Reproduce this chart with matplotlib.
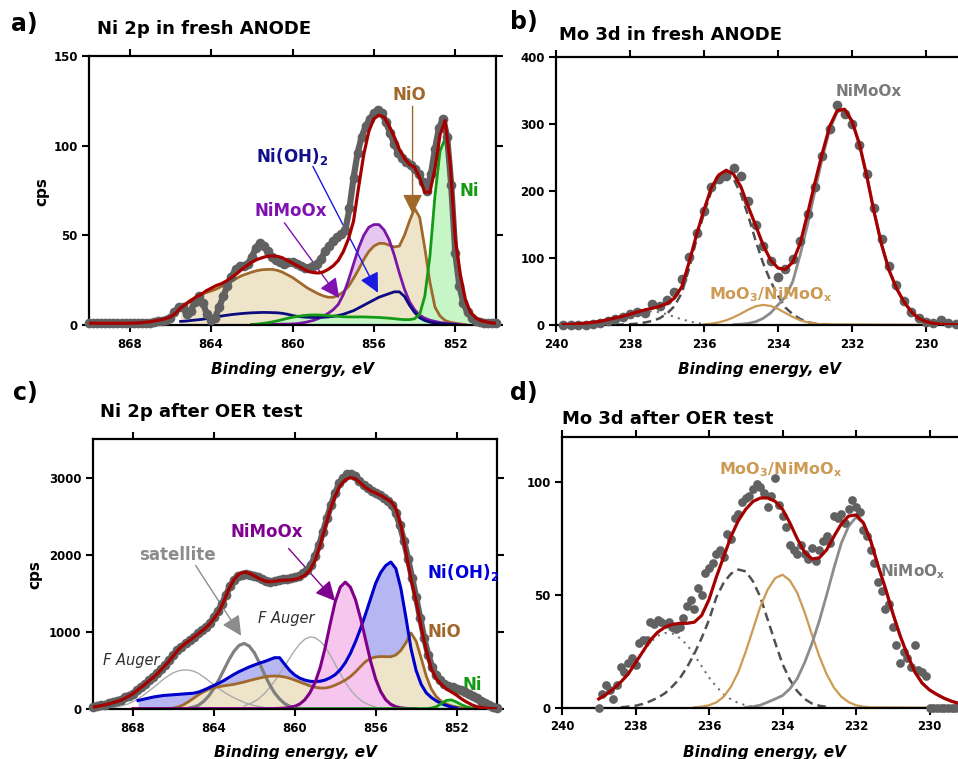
import numpy as np
import matplotlib.pyplot as plt

plt.rcParams['font.family'] = ['DejaVu Sans']
plt.rcParams['font.weight'] = 'bold'
plt.rcParams['mathtext.fontset'] = 'dejavusans'
plt.rcParams['mathtext.default'] = 'bf'


def grid(start, step, vals):
    # binding energy goes from high to low
    return start - step * np.arange(len(vals))


# ---------------- a) Ni 2p in fresh anode ----------------
a_data = [1, 1, 1, 1, 1, 1, 1, 1, 1, 1,
          1, 1, 1, 1, 1, 1, 1.5, 2, 2, 3,
          4, 7, 10, 10, 6, 8, 13, 16, 12, 6,
          3, 4, 10, 16, 22, 27, 31, 33, 33, 34,
          38, 43, 46, 44, 41, 38, 36, 35, 34, 35,
          35, 34, 33, 32, 32, 33, 34, 37, 41, 44,
          47, 49, 51, 53, 65, 82, 96, 105, 111, 115,
          118, 120, 118, 113, 107, 101, 96, 93, 91, 89,
          87, 84, 80, 75, 84, 98, 110, 115, 105, 78,
          40, 22, 12, 7, 4, 2.5, 1.5, 1, 1, 1, 1]
a_fit = [1, 1, 1, 1, 1, 1, 1, 1, 1, 1.1,
         1.2, 1.5, 1.8, 2.3, 2.8, 3.5, 4.5, 6.5, 9.5, 11.5,
         13.5, 15.5, 17, 19, 20.5, 22, 23, 24.5, 26.5, 28.5,
         31, 33, 35, 36.5, 37.5, 38.3, 38.5, 38.3, 37.5, 36,
         34.5, 33, 31.5, 30, 29.3, 29, 29.5, 31, 33, 36,
         41, 48, 58, 77, 95, 108, 115, 117, 116, 111,
         105, 98, 93, 89.5, 88, 82, 74, 74, 87, 106,
         114, 90, 48, 28, 14, 7, 4, 2.5, 1.8, 1.2, 1]
a_nio = [9, 12, 14, 15.5, 17, 18, 19, 20, 21.5, 23,
         24.5, 26, 27.5, 28.5, 29.5, 30.3, 30.8, 31, 31, 30.5,
         29.5, 28, 26.5, 24.5, 22.5, 20.5, 19, 17.5, 16.3, 15.5,
         15.5, 16.5, 18.5, 21.5, 26, 31, 36.5, 41, 44, 45.5,
         45.5, 44.5, 43.5, 44, 50, 58, 65, 60, 43, 24,
         10, 5, 2.5, 1.5, 1, 0.5, 0.3]
a_nimoox = [0.3, 0.3, 0.3, 0.4, 0.4, 0.4, 0.5, 0.5, 0.6, 0.8,
            1.2, 1.8, 2.5, 3.5, 4.8, 6.5, 8.5, 11.5, 17, 25,
            34, 43, 50, 54.5, 56, 56, 53, 47.5, 39, 29,
            20, 13, 8.5, 5.5, 3.8, 2.7, 2, 1.4, 1, 0.7, 0.5, 0.3]
a_nioh = [2, 2.2, 2.5, 2.8, 3.1, 3.5, 4, 4.5, 5, 5.4,
          5.8, 6.1, 6.4, 6.6, 6.8, 6.9, 7, 7, 6.9, 6.8,
          6.5, 6, 5.3, 4.8, 4.5, 4.3, 4.2, 4.2, 4.3, 4.5,
          4.8, 5.3, 6, 7, 8, 9.5, 11, 12.5, 14, 15.5,
          16.5, 17.5, 18.5, 18.5, 16, 11, 7, 4, 2.5, 1.6,
          1.1, 0.8, 0.5, 0.4, 0.3]
a_ni = [0.3, 0.5, 0.8, 1.2, 1.7, 2.3, 3, 3.7, 4.3, 4.8,
        5.2, 5.5, 5.6, 5.6, 5.5, 5.2, 5, 4.8, 4.6, 4.5,
        4.5, 4.5, 4.5, 4.4, 4.3, 4.2, 4, 3.8, 3.5, 3.2,
        3, 3, 3.5, 6, 16, 38, 72, 97, 104, 86,
        42, 18, 9, 4.5, 2, 1, 0.5]
a_data_e = grid(870.0, 0.2, a_data)
a_fit_e = grid(870.0, 0.25, a_fit)
a_nio_e = grid(865.5, 0.25, a_nio)
a_nimoox_e = grid(862.0, 0.25, a_nimoox)
a_nioh_e = grid(865.5, 0.25, a_nioh)
a_ni_e = grid(862.0, 0.25, a_ni)

# ---------------- b) Mo 3d in fresh anode ----------------
b_data = [0, 0, 0, 0, 1, 3, 6, 9, 12, 17,
          20, 18, 32, 28, 38, 50, 68, 102, 138, 170,
          206, 218, 222, 234, 222, 185, 150, 118, 95, 72,
          84, 98, 125, 165, 206, 252, 292, 328, 315, 300,
          268, 225, 175, 128, 88, 60, 36, 20, 10, 5,
          3, 8, 3, 1, 1, 1]
b_fit = [0.6, 1, 1.8, 2.8, 4, 5.5, 8, 10.5, 13, 16,
         19.5, 22.5, 25, 28, 32, 40, 57, 94, 135, 172,
         205, 224, 231, 225, 206, 176, 148, 119, 97, 85,
         83, 94, 122, 166, 213, 257, 297, 320, 322, 304,
         270, 222, 168, 120, 82, 55, 35, 20, 10, 5,
         2.5, 1.2, 0.6, 0.3, 0.2, 0.1, 0]
b_first = [0.3, 0.6, 1.2, 2.2, 3.8, 6, 10, 17, 28, 48,
           85, 128, 167, 200, 220, 226, 218, 195, 162, 125,
           92, 65, 44, 26, 16, 9, 4.5, 2, 1, 0.4]
b_nimoox = [0.5, 1.2, 2.5, 5, 10, 18, 30, 42, 65, 105,
            150, 200, 250, 292, 318, 322, 305, 270, 222, 168,
            120, 82, 55, 35, 20, 10, 5, 2.5, 1.2, 0.5]
b_moo3 = [1, 2, 4, 7, 11.5, 17, 23, 28, 30, 28.5,
          24, 18, 12, 7, 4, 2, 1, 0]
b_shoulder = [0.5, 1, 1.5, 2.5, 3.5, 5, 7, 9.5, 12, 15,
              18, 20, 20.5, 19, 16, 12, 8.5, 5.5, 3, 1.5, 0.7]
b_data_e = grid(239.8, 0.2, b_data)
b_fit_e = grid(239.8, 0.2, b_fit)
b_first_e = grid(238.4, 0.2, b_first)
b_nimoox_e = grid(235.2, 0.2, b_nimoox)
b_moo3_e = np.r_[grid(236.0, 0.2, b_moo3[:-1]), 228.6]
b_shoulder_e = grid(239.8, 0.2, b_shoulder)

# ---------------- c) Ni 2p after OER test ----------------
c_data = [30, 40, 50, 55, 75, 85, 100, 120, 150, 175,
          200, 240, 290, 330, 370, 420, 470, 520, 570, 640,
          700, 760, 810, 850, 890, 930, 980, 1020, 1060, 1110,
          1190, 1270, 1360, 1480, 1590, 1670, 1720, 1740, 1750, 1740,
          1720, 1710, 1680, 1660, 1650, 1660, 1670, 1680, 1690, 1700,
          1710, 1730, 1760, 1800, 1870, 1980, 2120, 2300, 2480, 2650,
          2800, 2930, 3000, 3040, 3050, 3020, 2960, 2900, 2860, 2830,
          2800, 2770, 2740, 2700, 2640, 2540, 2380, 2180, 1950, 1700,
          1450, 1180, 920, 700, 540, 440, 380, 330, 300, 280,
          255, 240, 220, 200, 170, 145, 110, 80, 50, 25, 15]
c_fit = [25, 35, 48, 62, 80, 100, 125, 160, 200, 250,
         300, 355, 410, 470, 540, 610, 690, 770, 830, 880,
         930, 980, 1030, 1090, 1170, 1260, 1400, 1560, 1680, 1750,
         1775, 1760, 1725, 1690, 1660, 1650, 1655, 1665, 1670, 1672,
         1680, 1700, 1735, 1800, 1920, 2120, 2350, 2580, 2760, 2900,
         2970, 3000, 2985, 2930, 2870, 2830, 2800, 2770, 2730, 2690,
         2600, 2380, 2020, 1680, 1400, 1060, 760, 520, 390, 320,
         260, 220, 180, 130, 90, 55, 30, 18, 10, 5, 3]
c_nioh = [110, 125, 140, 155, 165, 175, 180, 185, 190, 195,
          200, 205, 220, 245, 275, 305, 335, 370, 410, 450,
          485, 515, 545, 570, 595, 615, 640, 665, 665, 580,
          500, 440, 400, 375, 360, 355, 360, 375, 405, 445,
          510, 600, 720, 870, 1040, 1230, 1430, 1630, 1770, 1860,
          1905, 1820, 1560, 1180, 780, 500, 320, 210, 150, 105,
          70, 45, 25, 12]
c_nimoox = [5, 5, 8, 12, 20, 35, 65, 120, 210, 340,
            530, 790, 1100, 1390, 1580, 1645, 1580, 1420, 1180, 900,
            620, 390, 225, 120, 60, 30, 15, 8, 5, 5]
c_nio = [5, 12, 28, 55, 95, 140, 185, 225, 255, 275,
         290, 300, 310, 320, 335, 350, 368, 385, 400, 415,
         425, 428, 425, 415, 398, 375, 350, 325, 300, 282,
         272, 272, 285, 310, 340, 375, 420, 480, 550, 615,
         655, 675, 680, 678, 678, 700, 760, 860, 985, 880,
         660, 430, 260, 160, 100, 65, 40, 25, 15, 8]
c_sat = [10, 25, 50, 100, 170, 265, 380, 510, 640, 750,
         825, 850, 815, 730, 600, 450, 320, 210, 130, 70,
         35, 15, 6]
c_auger1 = [20, 30, 45, 65, 95, 130, 175, 225, 275, 330,
            385, 430, 470, 495, 505, 505, 490, 460, 415, 365,
            315, 265, 220, 180, 145, 115, 85, 62, 45, 30, 20]
c_auger2 = [40, 65, 95, 140, 200, 275, 360, 455, 555, 660,
            760, 845, 905, 935, 925, 880, 810, 700, 580, 460,
            345, 250, 175, 115, 75, 45, 25]
c_ni = [5, 5, 12, 30, 70, 112, 118, 90, 55, 28, 12, 6, 3, 1]
c_data_e = grid(870.0, 0.2, c_data)
c_fit_e = grid(870.0, 0.25, c_fit)
c_nioh_e = grid(867.75, 0.25, c_nioh)
c_nimoox_e = np.r_[868.0, grid(861.0, 0.25, c_nimoox[1:])]
c_nio_e = grid(866.25, 0.25, c_nio)
c_sat_e = grid(865.25, 0.25, c_sat)
c_auger1_e = grid(869.0, 0.25, c_auger1)
c_auger2_e = grid(862.5, 0.25, c_auger2)
c_ni_e = np.r_[860.0, grid(853.5, 0.25, c_ni[1:])]

# ---------------- d) Mo 3d after OER test ----------------
d_data = [0, 6, 10, 8, 4, 10, 18, 16, 20, 22,
          19, 29, 30, 30, 38, 37, 39, 38, 37, 38,
          36, 35, 36, 40, 45, 48, 44, 53, 50, 60,
          62, 64, 68, 70, 67, 77, 75, 84, 86, 91,
          93, 94, 97, 99, 98, 95, 89, 94, 102, 90,
          85, 80, 72, 70, 68, 72, 68, 66, 71, 65,
          70, 74, 76, 73, 85, 84, 86, 82, 88, 92,
          89, 87, 79, 76, 70, 64, 56, 52, 44, 46,
          36, 28, 20, 25, 22, 18, 28, 17, 16, 14,
          0, 0, 0, 0, 0, 0, 0, 0, 0, 0, 0, 0, 0]
d_fit = [4, 6, 8.5, 11.5, 15, 20, 25, 30, 33.5, 35.8,
         37, 37.5, 37.5, 38, 41, 48, 58, 67, 76, 83,
         88, 91.5, 93, 93, 91.5, 88, 82, 75, 69, 66,
         66.5, 70, 76, 81.5, 85, 85.5, 82, 74, 63, 53,
         42, 32, 23.5, 16, 11, 8, 6, 4.3, 3, 2,
         1.5, 1, 0.7]
d_shoulder = [4, 6, 8.5, 11.5, 15, 19.5, 24.5, 29, 32, 33.2,
              33, 31, 28, 23.5, 18.5, 13.5, 9.5, 6, 3.8, 2.2,
              1.2, 0.6, 0.3]
d_first = [0.3, 0.6, 1, 1.8, 3, 4.5, 6.5, 9.5, 13, 18,
           24, 31, 39, 49, 55.5, 59.5, 61.3, 60.5, 56, 49,
           39, 29, 19.5, 12.5, 7.5, 4, 2, 1, 0.5]
d_moo3 = [0.3, 0.6, 1.2, 2.5, 5, 9.5, 16, 25, 35, 45,
          52.5, 57.5, 59, 56.5, 51, 42.5, 32.5, 23, 15, 9,
          5, 2.6, 1.2, 0.6, 0.3, 0]
d_nimoox = [0.3, 0.6, 1.3, 2.6, 4, 5.5, 8.5, 13, 20, 28.5,
            38.5, 50, 62, 73, 80.5, 84.5, 82, 74, 63, 53,
            42, 32, 23.5, 16, 11, 8, 6, 4.3, 3, 2,
            1.5, 1, 0.7]
d_data_e = grid(239.0, 0.1, d_data)
d_fit_e = grid(239.0, 0.2, d_fit)
d_shoulder_e = grid(239.0, 0.2, d_shoulder)
d_first_e = grid(238.4, 0.2, d_first)
d_moo3_e = np.r_[grid(236.4, 0.2, d_moo3[:-1]), 228.6]
d_nimoox_e = grid(235.0, 0.2, d_nimoox)

# ---------------- colours ----------------
RED = '#a50000'
DOT = '#616161'
BROWN = '#a0692b'
TAN = '#ede4ca'
GREEN = '#159a15'
TAN2 = '#cc9a52'

W, H = 958, 759
fig = plt.figure(figsize=(W / 100, H / 100), dpi=100)


def add_axes(l, t, r, b):
    return fig.add_axes([l / W, 1 - b / H, (r - l) / W, (b - t) / H])


def ftext(x, y, s, **kw):
    fig.text(x / W, 1 - y / H, s, **kw)


def style(ax, xlim, ylim, xticks, yticks):
    ax.set_xlim(*xlim)
    ax.set_ylim(*ylim)
    ax.set_xticks(xticks)
    ax.set_yticks(yticks)
    ax.tick_params(direction='out', top=True, right=True, length=5,
                   width=1.5, labelsize=8.5, pad=3)
    ax.tick_params(axis='x', pad=4)
    for s in ax.spines.values():
        s.set_linewidth(1.6)


def arrow(ax, tail, tip, color, lw=1.0):
    ax.annotate('', xy=tip, xytext=tail,
                arrowprops=dict(arrowstyle='-|>,head_length=0.6,head_width=0.3',
                                color=color, lw=lw, mutation_scale=20,
                                shrinkA=0, shrinkB=0))


def dots(ax, e, v, ms=6.5, band=0):
    # dense scans look like a thick band of overlapping points
    if band:
        ax.plot(e, v, '-', color=DOT, lw=band, solid_capstyle='round',
                clip_on=False, zorder=4)
    ax.plot(e, v, 'o', color=DOT, ms=ms, mew=0, clip_on=False, zorder=4)


def fit(ax, e, v):
    ax.plot(e, v, color=RED, lw=2.3, zorder=5)


# ---- a ----
ax = add_axes(89, 56, 496, 325)
ax.fill_between(a_nimoox_e, a_nimoox, color='#e8c6f2', lw=0)
ax.fill_between(a_nio_e, a_nio, color=TAN, lw=0)
ax.fill_between(a_ni_e, a_ni, color='#c6f6c6', lw=0)
ax.plot(a_nio_e, a_nio, color=BROWN, lw=2)
ax.plot(a_nimoox_e, a_nimoox, color='#7a16a6', lw=2)
ax.plot(a_nioh_e, a_nioh, color='#0c0c80', lw=2)
ax.plot(a_ni_e, a_ni, color=GREEN, lw=2)
dots(ax, a_data_e, a_data, ms=7, band=4.5)
fit(ax, a_fit_e, a_fit)
style(ax, (870, 850), (0, 150), [868, 864, 860, 856, 852], [0, 50, 100, 150])
ax.text(854.25, 128, 'NiO', color=BROWN, fontsize=12, ha='center', va='center')
arrow(ax, (854.1, 122), (854.1, 62), BROWN)
ax.text(860.0, 94, 'Ni(OH)$_2$', color='#10108a', fontsize=12, ha='center', va='center')
arrow(ax, (859.0, 88.5), (855.8, 18), '#1a1ae0')
ax.text(860.1, 63.5, 'NiMoOx', color='#8012b0', fontsize=12, ha='center', va='center')
arrow(ax, (860.4, 57), (857.7, 15), '#8012b0')
ax.text(851.3, 75, 'Ni', color=GREEN, fontsize=12, ha='center', va='center')

# ---- b ----
ax = add_axes(556, 57, 1000, 325)
ax.plot(b_shoulder_e, b_shoulder, color='#707070', lw=1.5, ls=(0, (1, 2.5)))
ax.plot(b_first_e, b_first, color='#505050', lw=1.8, ls=(0, (3.5, 2)))
ax.plot(b_nimoox_e, b_nimoox, color='#8c8c8c', lw=2)
ax.plot(b_moo3_e, b_moo3, color=TAN2, lw=1.6)
dots(ax, b_data_e, b_data, ms=7)
fit(ax, b_fit_e, b_fit)
style(ax, (240, 228), (0, 400), [240, 238, 236, 234, 232, 230],
      [0, 100, 200, 300, 400])
ax.text(231.55, 348, 'NiMoOx', color='#7a7a7a', fontsize=11, ha='center', va='center')
ax.text(234.2, 45, 'MoO$_3$/NiMoO$_x$', color=TAN2, fontsize=11.5, ha='center', va='center')

# ---- c ----
ax = add_axes(92.5, 439, 497, 709)
ax.fill_between(c_nioh_e, c_nioh, color='#b6b6f2', lw=0)
ax.fill_between(c_nio_e, c_nio, color=TAN, lw=0)
ax.fill_between(c_nimoox_e, c_nimoox, color='#f6c6ee', lw=0)
ax.fill_between(c_ni_e, c_ni, color='#c6f6c6', lw=0)
ax.plot(c_auger1_e, c_auger1, color='#aaaaaa', lw=1)
ax.plot(c_auger2_e, c_auger2, color='#aaaaaa', lw=1)
ax.plot(c_sat_e, c_sat, color='#808080', lw=2.3)
ax.plot(c_nio_e, c_nio, color=BROWN, lw=2)
ax.plot(c_nioh_e, c_nioh, color='#0000cc', lw=2.2)
ax.plot(c_nimoox_e, c_nimoox, color='#800088', lw=2.2)
ax.plot(c_ni_e, c_ni, color=GREEN, lw=2)
dots(ax, c_data_e, c_data, ms=7, band=4.5)
fit(ax, c_fit_e, c_fit)
style(ax, (870, 850), (0, 3500), [868, 864, 860, 856, 852], [0, 1000, 2000, 3000])
ax.text(861.4, 2290, 'NiMoOx', color='#800090', fontsize=12, ha='center', va='center')
arrow(ax, (860.3, 2080), (858.0, 1400), '#800090')
ax.text(865.8, 1990, 'satellite', color='#8c8c8c', fontsize=12, ha='center', va='center')
arrow(ax, (864.9, 1860), (862.65, 950), '#8c8c8c')
ax.text(868.1, 634, 'F Auger', color='#303030', fontsize=10.5, style='italic',
        weight='normal', ha='center', va='center')
ax.text(860.4, 1177, 'F Auger', color='#303030', fontsize=10.5, style='italic',
        weight='normal', ha='center', va='center')
ax.text(853.45, 1772, 'Ni(OH)$_2$', color='#0000dd', fontsize=12, ha='left', va='center')
ax.text(853.45, 996, 'NiO', color=BROWN, fontsize=12, ha='left', va='center')
ax.text(851.7, 310, 'Ni', color=GREEN, fontsize=12, ha='left', va='center')

# ---- d ----
ax = add_axes(562, 437, 1003, 708)
ax.plot(d_shoulder_e, d_shoulder, color='#707070', lw=1.5, ls=(0, (1, 2.5)))
ax.plot(d_first_e, d_first, color='#505050', lw=1.8, ls=(0, (3.5, 2)))
ax.plot(d_moo3_e, d_moo3, color=TAN2, lw=1.6)
ax.plot(d_nimoox_e, d_nimoox, color='#8c8c8c', lw=2)
dots(ax, d_data_e, d_data, ms=6.3)
fit(ax, d_fit_e, d_fit)
style(ax, (240, 228), (0, 120), [240, 238, 236, 234, 232, 230], [0, 50, 100])
ax.text(234.05, 105.5, 'MoO$_3$/NiMoO$_x$', color=TAN2, fontsize=11.5, ha='center', va='center')
ax.text(231.35, 60.5, 'NiMoO$_x$', color='#7a7a7a', fontsize=11, ha='left', va='center')

# ---- panel letters, titles, axis labels ----
for x, y, s in [(24, 24, 'a)'), (524, 22, 'b)'), (25, 393, 'c)'), (524, 393, 'd)')]:
    ftext(x, y, s, fontsize=17, ha='center', va='center')
for x, y, s in [(97, 29, 'Ni 2p in fresh ANODE'), (559, 35, 'Mo 3d in fresh ANODE'),
                (100, 412, 'Ni 2p after OER test'), (562, 419, 'Mo 3d after OER test')]:
    ftext(x, y, s, fontsize=13, ha='left', va='center')
for x, y in [(292, 370), (759, 370), (295, 752), (764, 752)]:
    ftext(x, y, 'Binding energy, eV', fontsize=11, style='italic', ha='center', va='center')
for x, y in [(42, 192), (35, 575)]:
    ftext(x, y, 'cps', fontsize=11, rotation=90, ha='center', va='center')

fig.savefig('out.png', dpi=100)
